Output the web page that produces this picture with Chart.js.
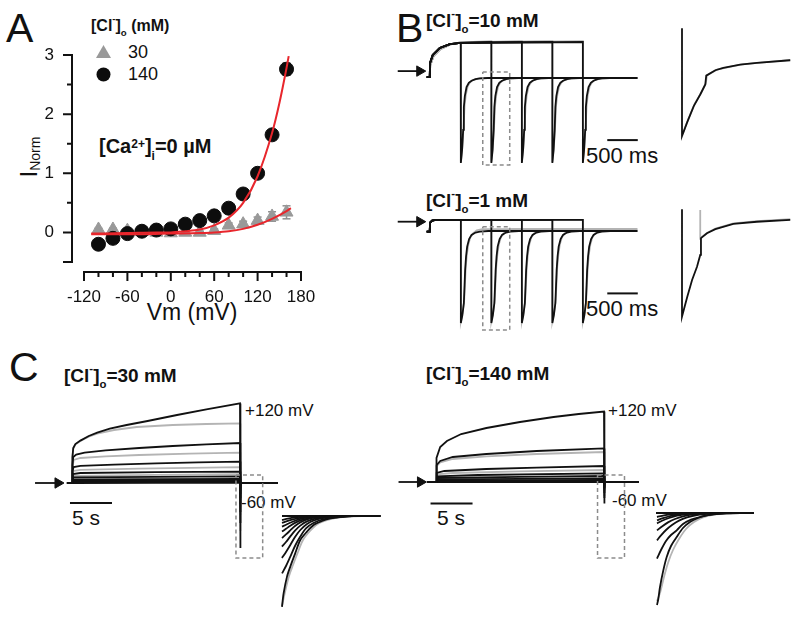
<!DOCTYPE html>
<html>
<head>
<meta charset="utf-8">
<script src="https://cdn.jsdelivr.net/npm/chart.js@4.4.1/dist/chart.umd.min.js"></script>
<style>
  body { margin: 0; background: #fff; width: 800px; height: 617px; overflow: hidden; position: relative;
         font-family: 'Liberation Sans', Arial, sans-serif; color: #111; }
  canvas { position: absolute; }
  .t { position: absolute; line-height: 1; white-space: nowrap; }
  .b { font-weight: bold; }
  .sub { font-size: 0.6em; position: relative; top: 0.55em; }
  .sup { font-size: 0.6em; position: relative; top: -0.9em; }
  .sup2 { font-size: 0.6em; position: relative; top: -0.45em; }
</style>
</head>
<body>
<!-- panel letters -->
<div class="t" style="left:6px;top:8px;font-size:41px">A</div>
<div class="t" style="left:396px;top:8px;font-size:41px">B</div>
<div class="t" style="left:9px;top:347px;font-size:41px">C</div>

<!-- panel A texts -->
<div class="t b" style="left:91px;top:18px;font-size:16px">[Cl<span class="sup">-</span>]<span class="sub">o</span> (mM)</div>
<svg style="position:absolute;left:96px;top:45px" width="15" height="13"><polygon points="7.5,0 15,13 0,13" fill="#999"/></svg>
<div class="t" style="left:128px;top:43px;font-size:18px">30</div>
<svg style="position:absolute;left:96px;top:67px" width="15" height="15"><circle cx="7.5" cy="7.5" r="7" fill="#0d0d0d"/></svg>
<div class="t" style="left:128px;top:65px;font-size:18px">140</div>
<div class="t b" style="left:99px;top:136px;font-size:20px">[Ca<span class="sup2">2+</span>]<span class="sub">i</span>=0 µM</div>
<div class="t" style="left:-1px;top:144px;width:60px;height:26px;line-height:26px;text-align:center;font-size:24px;transform:rotate(-90deg)">I<span style="font-size:14px;position:relative;top:3px">Norm</span></div>
<div class="t" style="left:142px;top:301px;width:100px;text-align:center;font-size:23px">Vm (mV)</div>

<!-- panel B texts -->
<div class="t b" style="left:426px;top:11px;font-size:19px">[Cl<span class="sup">-</span>]<span class="sub">o</span>=10 mM</div>
<div class="t b" style="left:426px;top:191px;font-size:19px">[Cl<span class="sup">-</span>]<span class="sub">o</span>=1 mM</div>
<div class="t" style="left:586px;top:145px;font-size:22px">500 ms</div>
<div class="t" style="left:586px;top:298px;font-size:22px">500 ms</div>

<!-- panel C texts -->
<div class="t b" style="left:64px;top:366px;font-size:19px">[Cl<span class="sup">-</span>]<span class="sub">o</span>=30 mM</div>
<div class="t b" style="left:426px;top:364px;font-size:19px">[Cl<span class="sup">-</span>]<span class="sub">o</span>=140 mM</div>
<div class="t" style="left:245px;top:402px;font-size:17px">+120 mV</div>
<div class="t" style="left:241px;top:494px;font-size:17px">-60 mV</div>
<div class="t" style="left:608px;top:402px;font-size:17px">+120 mV</div>
<div class="t" style="left:612px;top:492px;font-size:17px">-60 mV</div>
<div class="t" style="left:72px;top:507px;font-size:21px">5 s</div>
<div class="t" style="left:437px;top:507px;font-size:21px">5 s</div>

<canvas id="ivChart" width="330" height="340" style="left:0;top:0"></canvas>
<canvas id="b10" width="270" height="150" style="left:384px;top:18px"></canvas>
<canvas id="b10zoom" width="132" height="135" style="left:670px;top:20px"></canvas>
<canvas id="b1" width="270" height="180" style="left:384px;top:171px"></canvas>
<canvas id="b1zoom" width="132" height="124" style="left:670px;top:205px"></canvas>
<canvas id="c30" width="294" height="200" style="left:30px;top:383px"></canvas>
<canvas id="c30zoom" width="120" height="110" style="left:276px;top:506px"></canvas>
<canvas id="c140" width="294" height="200" style="left:394px;top:382px"></canvas>
<canvas id="c140zoom" width="120" height="110" style="left:651px;top:503px"></canvas>
<canvas id="ivAxes" width="330" height="340" style="left:0;top:0;z-index:5"></canvas>

<script>
// ---------- Panel A: normalized I-V ----------
const vm = [-100, -80, -60, -40, -20, 0, 20, 40, 60, 80, 100, 120, 140, 160];
const iNorm140 = [-0.2, -0.1, -0.02, 0.02, 0.04, 0.06, 0.14, 0.2, 0.28, 0.41, 0.65, 1.0, 1.65, 2.76];
const sem140 = [0.02, 0.02, 0.02, 0.02, 0.02, 0.02, 0.02, 0.02, 0.02, 0.03, 0.03, 0.04, 0.05, 0.1];
const iNorm30 = [0.05, 0.05, 0.03, 0.01, 0.0, -0.01, 0.0, 0.0, 0.03, 0.12, 0.14, 0.2, 0.27, 0.34];
const sem30 = [0.02, 0.02, 0.02, 0.02, 0.02, 0.02, 0.02, 0.02, 0.03, 0.04, 0.05, 0.06, 0.08, 0.11];
const fitV140 = [-110, -60, -20, 0, 20, 40, 60, 80, 100, 120, 140, 150, 160, 163];
const fitI140 = [-0.02, -0.01, 0, 0, 0.02, 0.05, 0.12, 0.25, 0.5, 0.95, 1.68, 2.18, 2.78, 2.98];
const fitV30 = [-110, -40, 0, 40, 60, 80, 100, 120, 140, 160, 166];
const fitI30 = [-0.03, -0.03, -0.02, -0.01, 0, 0.02, 0.06, 0.13, 0.23, 0.36, 0.41];
const xRange = [-120, 180];
const yRange = [-0.5, 3];
const xTicks = [-120, -100, -80, -60, -40, -20, 0, 20, 40, 60, 80, 100, 120, 140, 160, 180];
const yTicks = [-0.5, 0, 0.5, 1, 1.5, 2, 2.5, 3];

// ---------- Panel B: tail currents (ms, nA) ----------
const pulseEnds = [510, 1010, 1510, 2010, 2510];
const bEnd = 3400;
const act10 = [[-50, 0.03], [0, 0.03], [5, 0.5], [49, 0.77], [164, 1.0], [328, 1.13], [508, 1.17]];
const act10Gray = [[-50, 0.03], [0, 0.03], [8, 0.42], [60, 0.72], [180, 0.97], [340, 1.12], [508, 1.19]];
const top10 = 1.2, top10Gray = 1.23;
const tail10 = [[0, -2.83], [20, -2.4], [38, -1.73], [49, -0.97], [65, -0.6], [93, -0.3], [130, -0.16], [175, -0.09], [240, -0.04], [311, -0.01], [450, 0]];
const tail10Gray = [[0, -2.8], [25, -2.3], [45, -1.6], [62, -0.9], [82, -0.55], [112, -0.28], [150, -0.14], [200, -0.07], [280, -0.02], [420, 0]];
const act1 = [[-50, -0.02], [0, -0.02], [5, 0.28], [40, 0.35], [100, 0.37]];
const top1 = 0.37;
const tail1 = [[0, -3.07], [25, -2.8], [49, -2.41], [70, -1.3], [85, -0.85], [103, -0.52], [135, -0.27], [175, -0.13], [240, -0.05], [311, -0.02], [450, 0]];
const tail1Gray = [[0, -3.0], [30, -2.7], [55, -2.3], [80, -1.2], [100, -0.75], [122, -0.45], [155, -0.22], [200, -0.08], [260, 0.02], [350, 0.06]];
const inset10 = [[0, 1.19], [0, -2.8], [21, -2.3], [49, -1.69], [76, -1.26], [97, -0.89], [101, -0.56], [139, -0.36], [172, -0.27], [242, -0.15], [312, -0.09], [451, 0.01]];
const inset10Gray = [[3, -2.72], [25, -2.2], [53, -1.6], [80, -1.2], [99, -0.86], [104, -0.55], [145, -0.34], [250, -0.14], [451, 0.02]];
const inset1 = [[0, 0.36], [0, -3.1], [22, -2.46], [42, -1.92], [62.5, -1.49], [76, -1.11], [79, -0.57], [104, -0.41], [139, -0.28], [214, -0.11], [312, -0.04], [451, 0.02]];
const inset1Gray = [[76, 0.34], [76, -0.57], [104, -0.4], [139, -0.26], [214, -0.09], [312, -0.02], [451, 0.04]];

// ---------- Panel C: 20 s steps (s, nA) ----------
const c30Black = [
  [[0, 0], [0.05, 1.3], [0.15, 1.75], [0.4, 1.95], [1, 2.12], [2, 2.35], [3, 2.52], [4.5, 2.72], [6.5, 2.9], [9, 3.1], [12.5, 3.4], [16, 3.68], [20, 3.98]],
  [[0, 0], [0.05, 0.9], [0.15, 1.3], [0.5, 1.42], [1.5, 1.52], [4, 1.63], [8, 1.75], [12, 1.85], [16, 1.93], [20, 2.0]],
  [[0, 0], [0.05, 0.6], [0.2, 0.8], [1, 0.86], [5, 0.92], [10, 0.98], [15, 1.03], [20, 1.07]],
  [[0, 0], [0.1, 0.45], [1, 0.5], [10, 0.54], [20, 0.57]],
  [[0, 0], [0.1, 0.28], [10, 0.31], [20, 0.33]],
  [[0, 0], [0.1, 0.18], [20, 0.21]],
  [[0, 0], [0.1, 0.1], [20, 0.12]],
  [[0, 0], [0.1, 0.05], [20, 0.06]],
  [[0, 0], [20, 0.02]]
];
const c30BlackTail = [-3.25, -2.0, -1.45, -1.05, -0.75, -0.55, -0.38, -0.25, -0.15];
const c30Gray = [
  [[0, 0], [0.05, 1.25], [0.15, 1.72], [0.4, 1.92], [1, 2.1], [2, 2.32], [3, 2.47], [5, 2.65], [7.7, 2.8], [12, 2.9], [16, 2.95], [20, 2.98]],
  [[0, 0], [0.05, 0.8], [0.2, 1.15], [1, 1.25], [4, 1.33], [8, 1.4], [14, 1.47], [20, 1.52]],
  [[0, 0], [0.1, 0.6], [1, 0.66], [8, 0.72], [20, 0.79]],
  [[0, 0], [0.1, 0.35], [10, 0.41], [20, 0.44]]
];
const c30GrayTail = [-2.4, -1.6, -1.2, -0.8];
const c140Black = [
  [[0, 0], [0.06, 1.2], [0.5, 1.75], [1.3, 2.05], [3, 2.4], [6, 2.7], [10, 3.0], [14, 3.25], [17, 3.4], [20, 3.52]],
  [[0, 0], [0.08, 0.85], [0.5, 1.05], [2, 1.25], [6, 1.4], [12, 1.55], [20, 1.68]],
  [[0, 0], [0.08, 0.45], [1, 0.55], [6, 0.65], [12, 0.72], [20, 0.8]],
  [[0, 0], [0.1, 0.28], [5, 0.35], [20, 0.43]],
  [[0, 0], [0.1, 0.2], [10, 0.26], [20, 0.3]],
  [[0, 0], [0.1, 0.13], [20, 0.18]],
  [[0, 0], [0.1, 0.07], [20, 0.1]],
  [[0, 0], [20, 0.04]],
  [[0, 0], [20, 0]]
];
const c140BlackTail = [-1.07, -0.8, -0.55, -0.38, -0.3, -0.22, -0.15, -0.1, -0.05];
const c140Gray = [
  [[0, 0], [0.08, 0.8], [0.5, 0.98], [2, 1.15], [6, 1.28], [12, 1.4], [20, 1.5]],
  [[0, 0], [0.1, 0.38], [2, 0.45], [10, 0.53], [20, 0.6]]
];
const c140GrayTail = [-0.7, -0.45];
// zoomed tails (ms, nA)
const c30Zoom = [
  [[0, -4.54], [8, -3.87], [25, -3.03], [41.5, -2.53], [66, -1.87], [91.5, -1.2], [125, -0.78], [158, -0.45], [200, -0.25], [241, -0.12], [300, -0.04], [357, 0], [491, 0]],
  [[0, -2.87], [20, -2.5], [41.5, -2.03], [65, -1.5], [91.5, -1.03], [120, -0.62], [157, -0.35], [210, -0.16], [275, -0.07], [350, 0], [491, 0]],
  [[0, -2.1], [20, -1.8], [41.5, -1.45], [65, -1.05], [91.5, -0.7], [125, -0.4], [160, -0.22], [210, -0.09], [275, -0.03], [350, 0], [491, 0]],
  [[0, -1.53], [20, -1.3], [41.5, -1.02], [65, -0.73], [91.5, -0.48], [125, -0.27], [165, -0.13], [220, -0.05], [300, 0], [491, 0]],
  [[0, -1.1], [20, -0.92], [41.5, -0.72], [65, -0.5], [91.5, -0.32], [125, -0.17], [170, -0.07], [240, -0.02], [300, 0], [491, 0]],
  [[0, -0.78], [20, -0.64], [41.5, -0.49], [70, -0.32], [100, -0.19], [140, -0.09], [190, -0.03], [260, 0], [491, 0]],
  [[0, -0.53], [25, -0.41], [50, -0.3], [80, -0.18], [115, -0.09], [160, -0.03], [220, 0], [491, 0]],
  [[0, -0.35], [25, -0.26], [55, -0.17], [90, -0.09], [130, -0.04], [190, 0], [491, 0]],
  [[0, -0.2], [30, -0.13], [65, -0.07], [110, -0.02], [160, 0], [491, 0]],
  [[0, 0], [491, 0]]
];
const c30ZoomGray = [[0, -4.5], [15, -3.8], [35, -3.0], [55, -2.45], [80, -1.8], [105, -1.2], [140, -0.75], [175, -0.42], [220, -0.22], [265, -0.1], [330, -0.03], [400, 0], [491, 0]];
const c140Zoom = [
  [[0, -4.6], [6.5, -4.3], [15, -3.7], [31.5, -2.87], [48.5, -2.2], [70, -1.65], [98.5, -1.2], [130, -0.75], [165, -0.45], [205, -0.25], [248.5, -0.12], [310, -0.04], [380, 0], [485, 0]],
  [[0, -2.28], [20, -1.85], [45, -1.4], [70, -1.1], [98.5, -0.87], [130, -0.55], [170, -0.33], [215, -0.2], [270, -0.08], [340, -0.02], [420, 0], [485, 0]],
  [[0, -1.37], [20, -1.12], [45, -0.85], [75, -0.6], [110, -0.38], [150, -0.22], [200, -0.1], [270, -0.03], [350, 0], [485, 0]],
  [[0, -0.87], [25, -0.67], [55, -0.47], [90, -0.3], [130, -0.17], [180, -0.07], [250, -0.02], [320, 0], [485, 0]],
  [[0, -0.52], [25, -0.39], [60, -0.25], [100, -0.13], [150, -0.05], [220, 0], [485, 0]],
  [[0, -0.37], [30, -0.26], [70, -0.14], [120, -0.05], [180, 0], [485, 0]],
  [[0, -0.2], [35, -0.12], [80, -0.05], [140, 0], [485, 0]],
  [[-5, 0], [485, 0]]
];
const c140ZoomGray = [[0, -4.4], [15, -4.0], [35, -3.2], [55, -2.5], [80, -1.85], [110, -1.3], [145, -0.8], [185, -0.45], [230, -0.22], [280, -0.09], [350, -0.02], [420, 0], [485, 0]];

Chart.defaults.font.family = "'Liberation Sans', Arial, sans-serif";
Chart.defaults.color = '#111';

const BLACK = '#111', GRAY = '#b4b4b4', RED = '#e8262c', BOX = '#8c8c8c';
const pts = arr => arr.map(([x, y]) => ({ x, y }));
const pairs = (xv, yv) => xv.map((x, i) => ({ x, y: yv[i] }));
// vertical error bars as one broken line per series (null breaks the segments)
const errorSegments = (xv, yv, sem) => xv.flatMap((x, i) => [
  { x, y: yv[i] - sem[i] }, { x, y: yv[i] + sem[i] }, { x, y: null }]);

function trace(arr, color, order, extra) {
  return Object.assign({ data: pts(arr), showLine: true, borderColor: color, borderWidth: 1.8,
    pointRadius: 0, fill: false, order: order }, extra || {});
}
function box(arr) {
  return trace(arr, BOX, 0, { borderWidth: 1.5, borderDash: [4, 3] });
}
function arrow(t0, t1, y) {
  return trace([[t0, y], [t1, y]], BLACK, 0, { pointRadius: [0, 6], pointStyle: 'triangle',
    pointRotation: 90, pointBackgroundColor: BLACK, pointBorderColor: BLACK, pointBorderWidth: 1 });
}
// one sweep: activation, pulse end D, tail relaxation, then hold to tEnd
function sweepB(act, top, D, tail, tEnd) {
  const out = act.filter(p => p[0] < D);
  out.push([D, top]);
  tail.forEach(([dt, v]) => out.push([D + dt, v]));
  out.push([tEnd, tail[tail.length - 1][1]]);
  return out;
}
function sweepC(rise, tailPeak, tStart, tEnd) {
  const last = rise[rise.length - 1];
  return [[tStart, 0]].concat(rise, [[last[0], tailPeak], [last[0] + 0.1, 0], [tEnd, 0]]);
}

function traceChart(id, datasets, xr, yr) {
  return new Chart(document.getElementById(id), {
    type: 'scatter',
    data: { datasets },
    options: {
      responsive: false, animation: false, events: [],
      layout: { padding: 0, autoPadding: false },
      plugins: { legend: { display: false }, tooltip: { enabled: false } },
      scales: {
        x: { type: 'linear', display: false, min: xr[0], max: xr[1] },
        y: { type: 'linear', display: false, min: yr[0], max: yr[1] }
      },
      elements: { line: { tension: 0 } }
    }
  });
}

// ---------- Panel A chart ----------
const ivChart = new Chart(document.getElementById('ivChart'), {
  type: 'scatter',
  data: {
    datasets: [
      { label: 'fit 140', data: pairs(fitV140, fitI140), showLine: true, borderColor: RED, borderWidth: 2,
        pointRadius: 0, cubicInterpolationMode: 'monotone', order: 0 },
      { label: 'fit 30', data: pairs(fitV30, fitI30), showLine: true, borderColor: RED, borderWidth: 2,
        pointRadius: 0, cubicInterpolationMode: 'monotone', order: 0 },
      { label: '140', data: pairs(vm, iNorm140), pointRadius: 7, pointBackgroundColor: '#0d0d0d',
        pointBorderColor: '#0d0d0d', order: 1 },
      { label: '30', data: pairs(vm, iNorm30), pointStyle: 'triangle', pointRadius: 7.5,
        pointBackgroundColor: '#999', pointBorderColor: '#999', order: 2 },
      { label: 'sem 140', data: errorSegments(vm, iNorm140, sem140), showLine: true, spanGaps: false,
        borderColor: BLACK, borderWidth: 1.5, pointStyle: 'line', pointRadius: 4,
        pointBorderColor: BLACK, pointBorderWidth: 1.5, order: 3 },
      { label: 'sem 30', data: errorSegments(vm, iNorm30, sem30), showLine: true, spanGaps: false,
        borderColor: '#8f8f8f', borderWidth: 1.5, pointStyle: 'line', pointRadius: 4,
        pointBorderColor: '#8f8f8f', pointBorderWidth: 1.5, order: 4 }
    ]
  },
  options: {
    responsive: false, animation: false, events: [],
    layout: { padding: { left: 0, right: 29, top: 55, bottom: 0 }, autoPadding: false },
    plugins: { legend: { display: false }, tooltip: { enabled: false } },
    scales: {
      x: {
        type: 'linear', min: xRange[0], max: xRange[1],
        afterFit: s => { s.height = 78; s.paddingRight = 0; s.paddingLeft = 0; },
        grid: { display: false, drawTicks: false }, border: { display: false },
        ticks: { stepSize: 20, autoSkip: false, maxRotation: 0, padding: 25, font: { size: 17 },
                 callback: v => (v % 60 === 0 ? String(v) : '') }
      },
      y: {
        type: 'linear', min: yRange[0], max: yRange[1],
        afterFit: s => { s.width = 84; s.paddingTop = 0; s.paddingBottom = 0; },
        grid: { display: false, drawTicks: false }, border: { display: false },
        ticks: { stepSize: 0.5, autoSkip: false, padding: 30, font: { size: 17 },
                 callback: v => (Number.isInteger(v) ? String(v) : '') }
      }
    }
  }
});

// detached Igor-style axes on an overlay, placed from the chart's layout
(function drawDetachedAxes(chart, ctx) {
  const area = chart.chartArea;
  const L = Number(area.left), R = Number(area.right), T = Number(area.top), B = Number(area.bottom);
  const px = v => L + (v - xRange[0]) / (xRange[1] - xRange[0]) * (R - L);
  const py = v => B - (v - yRange[0]) / (yRange[1] - yRange[0]) * (B - T);
  const ax = L - 12, ay = B + 10;
  ctx.strokeStyle = BLACK;
  ctx.lineWidth = 2;
  // y axis
  ctx.beginPath();
  ctx.moveTo(ax, py(3));
  ctx.lineTo(ax, py(-0.5));
  yTicks.forEach(v => {
    ctx.moveTo(ax + 1, py(v));
    ctx.lineTo(ax - ((Number.isInteger(v) || v === -0.5) ? 9 : 5), py(v));
  });
  ctx.stroke();
  // x axis
  ctx.beginPath();
  ctx.moveTo(px(xRange[0]), ay);
  ctx.lineTo(px(xRange[1]), ay);
  xTicks.forEach(v => {
    ctx.moveTo(px(v), ay - 1);
    ctx.lineTo(px(v), ay + ((v % 60 === 0) ? 9 : 5));
  });
  ctx.stroke();
})(ivChart, document.getElementById('ivAxes').getContext('2d'));

// ---------- Panel B charts ----------
const bX = [-750, 3676];
const b10Sets = [];
pulseEnds.forEach(D => b10Sets.push(trace(sweepB(act10, top10, D, tail10, bEnd), BLACK, 1)));
pulseEnds.forEach(D => b10Sets.push(trace(sweepB(act10Gray, top10Gray, D, tail10Gray, bEnd), GRAY, 2)));
b10Sets.push(box([[869, 0.2], [1311, 0.2], [1311, -2.9], [869, -2.9], [869, 0.2]]));
b10Sets.push(trace([[2910, -2.07], [3410, -2.07]], BLACK, 0, { borderWidth: 2 }));
b10Sets.push(arrow(-525, -164, 0.23));
traceChart('b10', b10Sets, bX, [-3, 2]);

const b1Sets = [];
pulseEnds.forEach(D => b1Sets.push(trace(sweepB(act1, top1, D, tail1, bEnd), BLACK, 1)));
pulseEnds.forEach(D => b1Sets.push(trace(sweepB(act1, top1, D, tail1Gray, bEnd), GRAY, 2)));
b1Sets.push(box([[869, 0.14], [1311, 0.14], [1311, -3.3], [869, -3.3], [869, 0.14]]));
b1Sets.push(trace([[2910, -2.08], [3410, -2.08]], BLACK, 0, { borderWidth: 2 }));
b1Sets.push(arrow(-525, -164, 0.31));
traceChart('b1', b1Sets, bX, [-4, 2]);

traceChart('b10zoom', [trace(inset10, BLACK, 1), trace(inset10Gray, GRAY, 2)], [-50, 500], [-3.5, 1.5]);
traceChart('b1zoom', [trace(inset1, BLACK, 1), trace(inset1Gray, GRAY, 2)], [-50, 500], [-3.5, 0.5]);

// ---------- Panel C charts ----------
const c30Sets = [];
c30Black.forEach((r, i) => c30Sets.push(trace(sweepC(r, c30BlackTail[i], -0.6, 24.5), BLACK, 1)));
c30Gray.forEach((r, i) => c30Sets.push(trace(sweepC(r, c30GrayTail[i], -0.6, 24.5), GRAY, 2)));
c30Sets.push(box([[19.52, 0.4], [22.7, 0.4], [22.7, -3.75], [19.52, -3.75], [19.52, 0.4]]));
c30Sets.push(trace([[-0.24, -1.0], [4.76, -1.0]], BLACK, 0, { borderWidth: 2 }));
c30Sets.push(arrow(-4.4, -1.67, 0));
traceChart('c30', c30Sets, [-5, 30], [-5, 5]);

const c140Sets = [];
c140Black.forEach((r, i) => c140Sets.push(trace(sweepC(r, c140BlackTail[i], -1.0, 24.1), BLACK, 1)));
c140Gray.forEach((r, i) => c140Sets.push(trace(sweepC(r, c140GrayTail[i], -1.0, 24.1), GRAY, 2)));
c140Sets.push(box([[19.23, 0.35], [22.44, 0.35], [22.44, -3.8], [19.23, -3.8], [19.23, 0.35]]));
c140Sets.push(trace([[-0.65, -1.07], [4.35, -1.07]], BLACK, 0, { borderWidth: 2 }));
c140Sets.push(arrow(-4.46, -1.85, 0));
traceChart('c140', c140Sets, [-5, 30], [-5, 5]);

const c30ZoomSets = c30Zoom.map(a => trace(a, BLACK, 1, { tension: 0.3 }));
c30ZoomSets.push(trace(c30ZoomGray, GRAY, 2, { tension: 0.3 }));
traceChart('c30zoom', c30ZoomSets, [-30, 570], [-5, 0.5]);

const c140ZoomSets = c140Zoom.map(a => trace(a, BLACK, 1, { tension: 0.3 }));
c140ZoomSets.push(trace(c140ZoomGray, GRAY, 2, { tension: 0.3 }));
traceChart('c140zoom', c140ZoomSets, [-30, 570], [-5, 0.5]);
</script>
</body>
</html>
